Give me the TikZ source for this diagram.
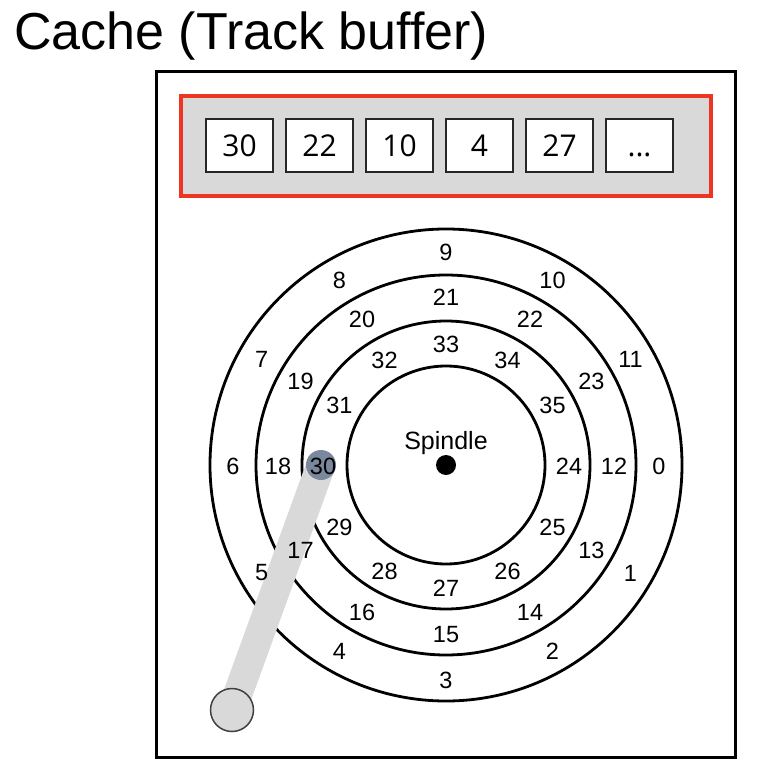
\documentclass[tikz,border=0pt]{standalone}
\usepackage{fontspec}
\setmainfont{Liberation Sans}
\newfontfamily\boxfont{Open Sans}
\definecolor{panelgray}{HTML}{D9D9D9}
\definecolor{cachered}{HTML}{EE3524}
\definecolor{headblue}{HTML}{7A879C}
\tikzset{
  px/.style={x=1pt,y=-1pt},
  ring/.style={draw=black,line width=2.8pt},
  slot/.style={draw=black!85,line width=1.5pt,fill=white,minimum width=67pt,minimum height=53pt,inner sep=0pt,text height=23pt,text depth=0pt,font=\boxfont\fontsize{30}{30}\selectfont},
  sector/.style={inner sep=0pt,font=\fontsize{23.5}{23.5}\selectfont},
}
\begin{document}
\begin{tikzpicture}[px]
\useasboundingbox (0,0) rectangle (758,778);
\node[anchor=base west,inner sep=0pt,font=\fontsize{52}{52}\selectfont] (title) at (14,50) {Cache (Track buffer)};
\draw[line width=3pt] (156,72) rectangle (735,757);
\draw[draw=cachered,fill=panelgray,line width=4.5pt] (181,96) rectangle (711,196);
\node[slot] (slot0) at (239.5,145.5) {30};
\node[slot] (slot1) at (319.5,145.5) {22};
\node[slot] (slot2) at (399.5,145.5) {10};
\node[slot] (slot3) at (479.5,145.5) {4};
\node[slot] (slot4) at (559.5,145.5) {27};
\node[slot] (slot5) at (639.5,145.5) {...};
\coordinate (c) at (446,465);
\foreach \r in {236,190,144,99}
  \draw[ring] (c) circle[radius=\r];
\coordinate (armtop) at (321,465);
\coordinate (armbase) at (232,710);
\draw[panelgray,line width=29pt] (armtop) -- (armbase);
\fill[headblue] (armtop) circle[radius=15];
\draw[draw=black!75,fill=panelgray,line width=1.5pt] (armbase) circle[radius=21.5];
\fill[black] (c) circle[radius=10];
\node[sector,font=\fontsize{25}{25}\selectfont] (spindle) at (446,443) {Spindle};
\foreach \k in {0,1,2,3,4,5,6,7,8,9,10,11} {
  \pgfmathtruncatemacro{\a}{\k}
  \pgfmathtruncatemacro{\b}{\k+12}
  \pgfmathtruncatemacro{\d}{\k+24}
  \node[sector] (o\k) at ({446+213*cos(30*\k)},{466+214*sin(30*\k)}) {\a};
  \node[sector] (m\k) at ({446+168*cos(30*\k)},{466+169*sin(30*\k)}) {\b};
  \node[sector] (n\k) at ({446+123*cos(30*\k)},{466+122*sin(30*\k)}) {\d};
}
\end{tikzpicture}
\end{document}
